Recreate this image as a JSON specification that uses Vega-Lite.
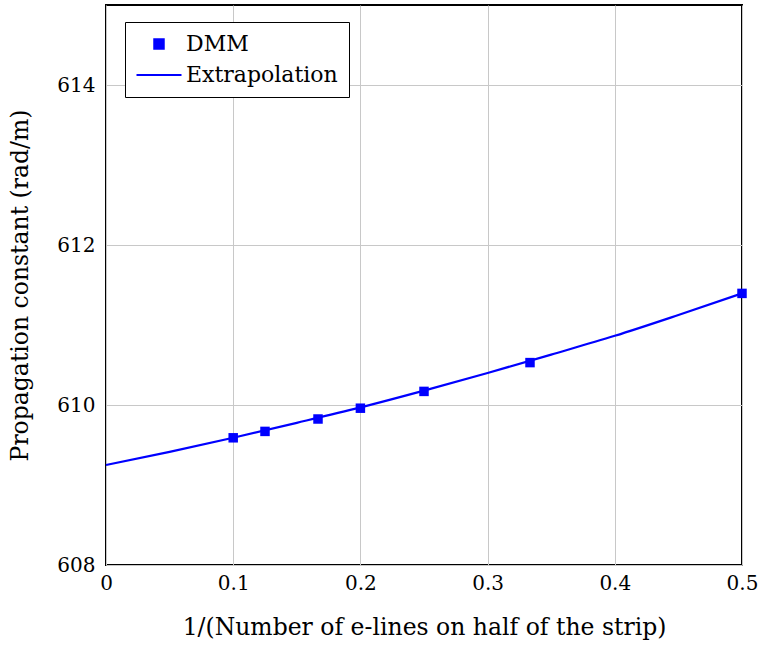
{
  "$schema": "https://vega.github.io/schema/vega-lite/v6.json",
  "width": 636,
  "height": 560,
  "autosize": {"type": "none"},
  "padding": {"left": 106, "top": 5, "right": 16, "bottom": 80},
  "background": "white",
  "config": {
    "font": "DejaVu Serif",
    "view": {"stroke": "black", "strokeWidth": 2},
    "axis": {
      "domain": false,
      "ticks": false,
      "grid": true,
      "gridColor": "#c8c8c8",
      "gridWidth": 1,
      "labelFlush": false,
      "labelFont": "DejaVu Serif",
      "labelFontSize": 20,
      "labelColor": "black",
      "titleFont": "DejaVu Serif",
      "titleFontSize": 23.5,
      "titleFontWeight": "normal",
      "titleColor": "black"
    },
    "legend": {
      "labelFont": "DejaVu Serif",
      "labelFontSize": 22,
      "labelColor": "black"
    }
  },
  "datasets": {
    "dmm": [
      {"inv_n": 0.1, "beta": 609.59, "series": "DMM"},
      {"inv_n": 0.125, "beta": 609.67, "series": "DMM"},
      {"inv_n": 0.16667, "beta": 609.825, "series": "DMM"},
      {"inv_n": 0.2, "beta": 609.96, "series": "DMM"},
      {"inv_n": 0.25, "beta": 610.17, "series": "DMM"},
      {"inv_n": 0.33333, "beta": 610.53, "series": "DMM"},
      {"inv_n": 0.5, "beta": 611.395, "series": "DMM"}
    ],
    "fit": [
      {"inv_n": 0.0, "beta": 609.25, "series": "Extrapolation"},
      {"inv_n": 0.05, "beta": 609.414, "series": "Extrapolation"},
      {"inv_n": 0.1, "beta": 609.59, "series": "Extrapolation"},
      {"inv_n": 0.15, "beta": 609.777, "series": "Extrapolation"},
      {"inv_n": 0.2, "beta": 609.97, "series": "Extrapolation"},
      {"inv_n": 0.25, "beta": 610.18, "series": "Extrapolation"},
      {"inv_n": 0.3, "beta": 610.40, "series": "Extrapolation"},
      {"inv_n": 0.35, "beta": 610.63, "series": "Extrapolation"},
      {"inv_n": 0.4, "beta": 610.865, "series": "Extrapolation"},
      {"inv_n": 0.45, "beta": 611.125, "series": "Extrapolation"},
      {"inv_n": 0.5, "beta": 611.395, "series": "Extrapolation"}
    ]
  },
  "layer": [
    {
      "data": {"name": "fit"},
      "mark": {"type": "line", "strokeWidth": 2.2, "interpolate": "monotone"},
      "encoding": {
        "x": {
          "field": "inv_n", "type": "quantitative",
          "scale": {"domain": [0, 0.5], "nice": false, "zero": false},
          "axis": {"values": [0, 0.1, 0.2, 0.3, 0.4, 0.5], "format": "~g",
                   "labelFont": "DejaVu Serif", "titleFont": "DejaVu Serif",
                   "labelPadding": 8, "titlePadding": 22,
                   "title": "1/(Number of e-lines on half of the strip)"}
        },
        "y": {
          "field": "beta", "type": "quantitative",
          "scale": {"domain": [608, 615], "nice": false, "zero": false},
          "axis": {"values": [608, 610, 612, 614], "format": "d",
                   "labelFont": "DejaVu Serif", "titleFont": "DejaVu Serif",
                   "labelPadding": 11, "titlePadding": 24,
                   "title": "Propagation constant (rad/m)"}
        },
        "color": {"field": "series", "type": "nominal",
                  "scale": {"domain": ["DMM", "Extrapolation"], "range": ["#0000ff", "#0000ff"]}}
      }
    },
    {
      "data": {"name": "dmm"},
      "mark": {"type": "point", "filled": true, "opacity": 1},
      "encoding": {
        "x": {"field": "inv_n", "type": "quantitative"},
        "y": {"field": "beta", "type": "quantitative"},
        "color": {"field": "series", "type": "nominal",
                  "legend": {
                    "title": null,
                    "orient": "none",
                    "legendX": 19,
                    "legendY": 17,
                    "padding": 11,
                    "strokeColor": "black",
                    "fillColor": "white",
                    "rowPadding": 9,
                    "symbolOffset": 12,
                    "labelOffset": 16,
                    "labelFont": "DejaVu Serif",
                    "symbolStrokeColor": "#0000ff",
                    "symbolStrokeWidth": 2,
                    "encode": {"legend": {"update": {"strokeWidth": {"value": 2}}}}
                  }},
        "shape": {"field": "series", "type": "nominal",
                  "scale": {"domain": ["DMM", "Extrapolation"], "range": ["square", "M-2.25,0H2.25"]}},
        "size": {"field": "series", "type": "nominal",
                 "scale": {"domain": ["DMM", "Extrapolation"], "range": [90, 400]}}
      }
    }
  ]
}
